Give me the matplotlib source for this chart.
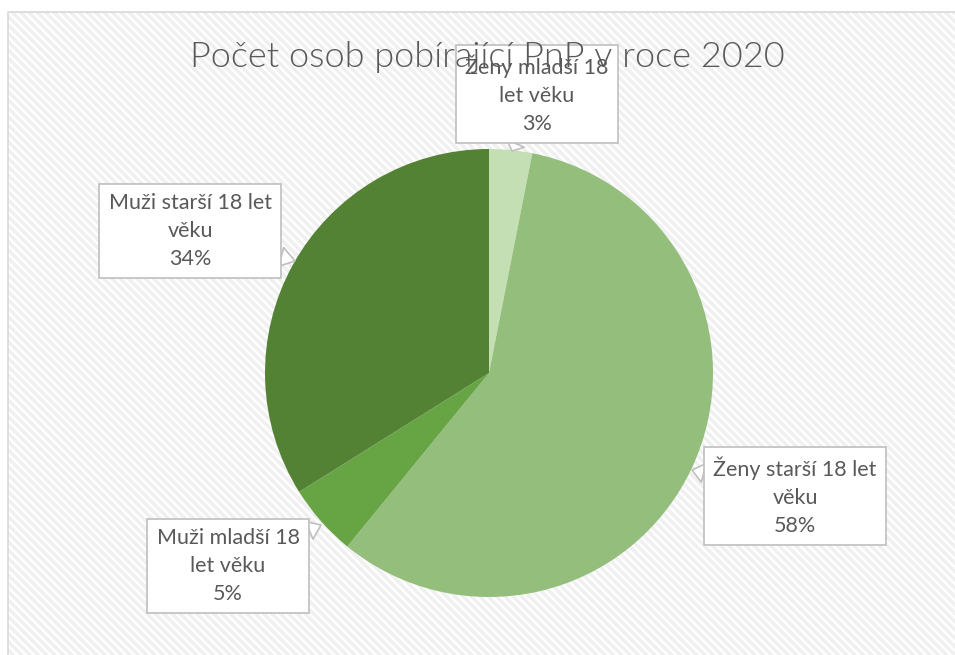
import matplotlib.pyplot as plt
import matplotlib.patches as mpatches
import numpy as np

plt.rcParams['font.family'] = ['Lato', 'DejaVu Sans']
plt.rcParams['hatch.linewidth'] = 2.5

# podíly (v %), pořadí po směru hodinových ručiček od 12 hodin
labels = ["Ženy mladší 18\nlet věku", "Ženy starší 18 let\nvěku",
          "Muži mladší 18\nlet věku", "Muži starší 18 let\nvěku"]
values = [3.1, 57.8, 5.2, 33.9]
pct_text = ["3%", "58%", "5%", "34%"]
colors = ["#C5DFB4", "#93BE7C", "#67A444", "#548235"]

W, H = 955, 655
fig = plt.figure(figsize=(9.55, 6.55), dpi=100)
ax = fig.add_axes([0, 0, 1, 1])

# pozadí grafu s jemným šrafováním
bg = mpatches.Rectangle((8, -5), W, H - 12 + 5, facecolor='white',
                        edgecolor='#F0F0F0', hatch='\\\\\\\\', lw=0, zorder=0)
ax.add_patch(bg)
ax.plot([8, 8, W + 5], [0, H - 12, H - 12], color='#D9D9D9', lw=1.2, zorder=1)

cx, cy, r = 489, H - 373, 224
wedges, _ = ax.pie(values, colors=colors, startangle=90, counterclock=False,
                   radius=r, center=(cx, cy), frame=True,
                   wedgeprops=dict(linewidth=0, zorder=2))
ax.set_xlim(0, W)
ax.set_ylim(0, H)
ax.set_aspect('equal')
ax.axis('off')

ax.text(W / 2 + 10, H - 57, "Počet osob pobírající PnP v roce 2020",
        ha='center', va='center', fontsize=26, fontweight=300,
        color='#595959', zorder=6)

# pozice popisků (střed textu) a hrot ukazatele v pixelech
box_pos = [(537, H - 94), (795, H - 496), (228, H - 566), (190, H - 231)]
tips = [(512, H - 151), (692, H - 470), (321, H - 525), (295, H - 261)]

for lab, pct, (bx, by), (tx, ty) in zip(labels, pct_text, box_pos, tips):
    ax.annotate(lab + "\n" + pct, xy=(tx, ty), xytext=(bx, by),
                ha='center', va='center', fontsize=15.5, color='#595959',
                linespacing=1.5, zorder=5,
                bbox=dict(boxstyle='square,pad=0.42', fc='white',
                          ec='#BFBFBF', lw=1.2),
                arrowprops=dict(arrowstyle='wedge,tail_width=0.9',
                                fc='white', ec='#BFBFBF', lw=1.2,
                                shrinkA=0, shrinkB=0))

fig.savefig('out.png', dpi=100)
